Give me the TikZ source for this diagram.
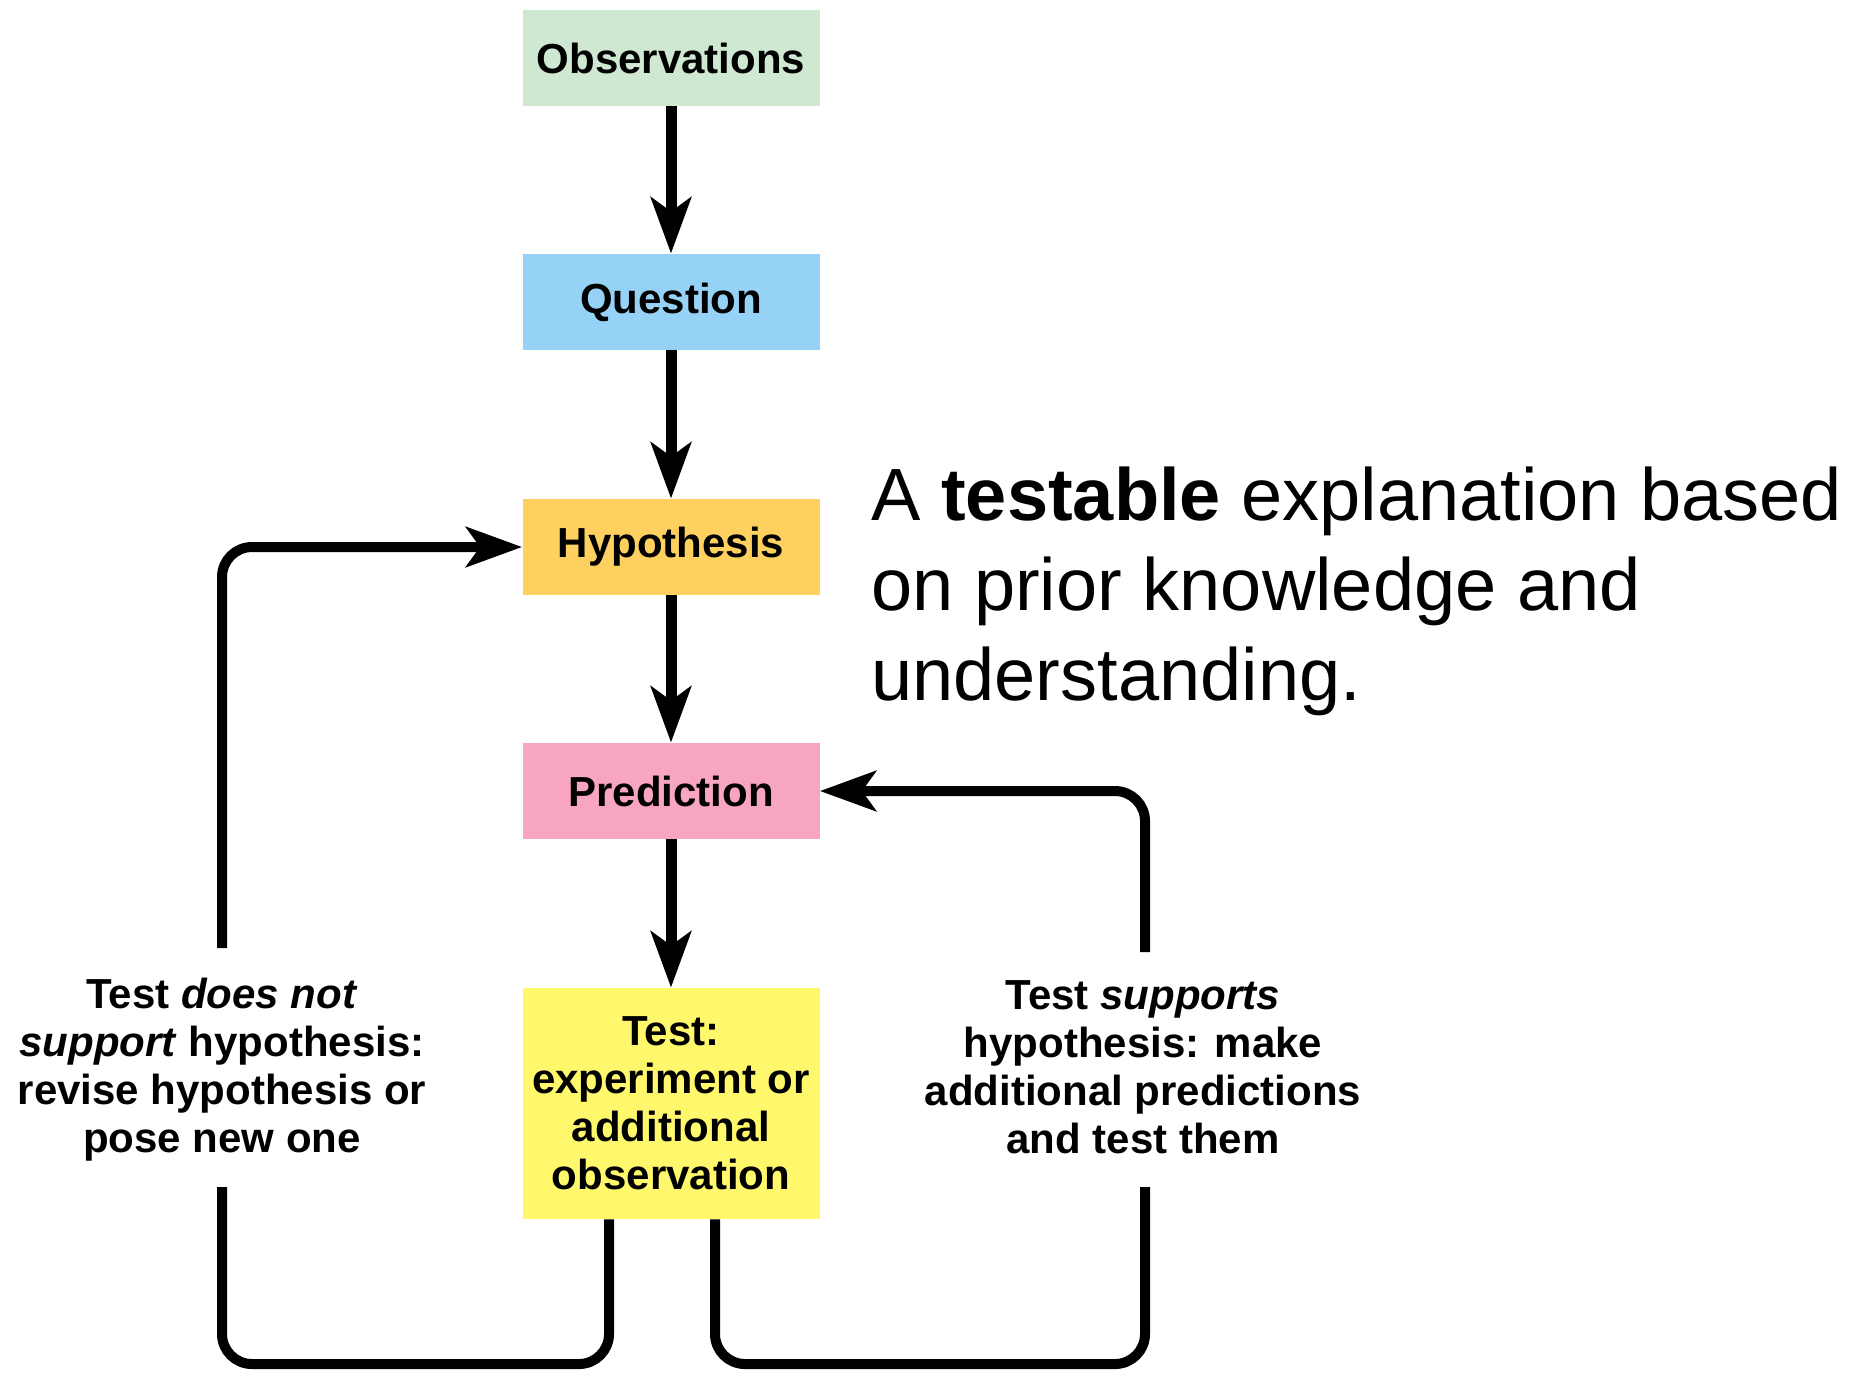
\documentclass[tikz,border=0pt]{standalone}
\usepackage{fontspec}
\setmainfont{Liberation Sans}
\usetikzlibrary{arrows.meta}
\definecolor{cobs}{RGB}{206,232,210}
\definecolor{cque}{RGB}{150,210,246}
\definecolor{chyp}{RGB}{253,208,96}
\definecolor{cpre}{RGB}{248,166,192}
\definecolor{ctest}{RGB}{255,248,108}
\begin{document}
\begin{tikzpicture}[x=0.5pt,y=-0.5pt,
  box/.style={minimum width=148.5pt, minimum height=48pt, inner sep=0pt, align=center,
    font=\bfseries\fontsize{21}{24}\selectfont},
  conn/.style={line width=5.5pt, -{Stealth[length=28pt,width=20pt,inset=7pt]}},
  loopline/.style={line width=5pt, rounded corners=15pt},
  lbl/.style={align=center, inner sep=0pt, font=\bfseries\fontsize{21}{24}\selectfont},
  expl/.style={anchor=base west, inner sep=0pt, font=\fontsize{37}{45}\selectfont},
]
\useasboundingbox (0,0) rectangle (1871,1372);
\node[box, fill=cobs] (obs) at (671,58) {Observations};
\node[box, fill=cque] (que) at (671,302) {Question};
\node[box, fill=chyp] (hyp) at (671,547) {Hypothesis};
\node[box, fill=cpre] (pre) at (671,791) {Prediction};
\node[box, fill=ctest, minimum height=115.5pt] (test) at (671,1103.5) {Test:\\experiment or\\additional\\observation};

\draw[conn] (obs) -- (que);
\draw[conn] (que) -- (hyp);
\draw[conn] (hyp) -- (pre);
\draw[conn] (pre) -- (test);

\node[lbl] (lnot) at (222,1070) {Test \textit{does not}\\\textit{support} hypothesis:\\revise hypothesis or\\pose new one};
\node[lbl] (lsup) at (1143,1067) {Test \textit{supports}\\hypothesis: make\\additional predictions\\and test them};

\coordinate (lu) at (222,948);
\coordinate (ll) at (222,1187);
\coordinate (bl) at (222,1364);
\coordinate (ru) at (1145,952);
\coordinate (rl) at (1145,1187);
\coordinate (br) at (1145,1364);

\draw[loopline, conn, line width=5pt] (lu) |- (hyp.west);
\draw[loopline, conn, line width=5pt] (ru) |- (pre.east);
\draw[loopline] ([xshift=-31pt]test.south) |- (bl) -- (ll);
\draw[loopline] ([xshift=22pt]test.south) |- (br) -- (rl);

\node[expl] (ex1) at (871,520) {A \textbf{testable} explanation based};
\node[expl] (ex2) at (871,610) {on prior knowledge and};
\node[expl] (ex3) at (871,700) {understanding.};
\end{tikzpicture}
\end{document}
